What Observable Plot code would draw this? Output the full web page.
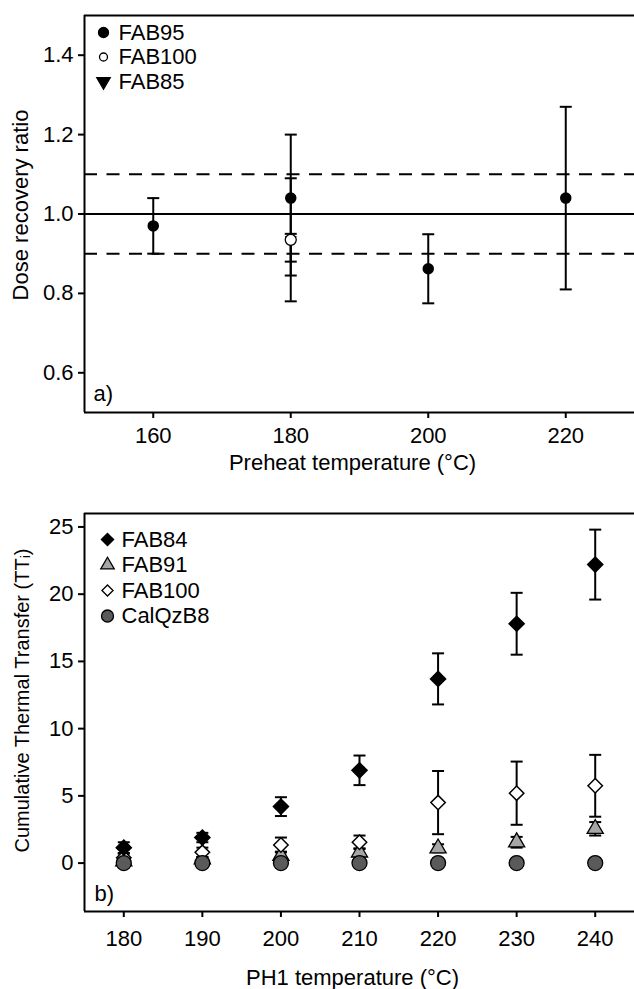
<!DOCTYPE html>
<html><head><meta charset="utf-8">
<script src="https://cdn.jsdelivr.net/npm/d3@7"></script>
<script src="https://cdn.jsdelivr.net/npm/@observablehq/plot@0.6"></script>
<style>
body{margin:0;background:#fff;}
#chart{width:634px;}
#chart svg{display:block;}
</style></head><body><div id="chart"></div>
<script>
// ---------- Panel a) Dose recovery ----------
const preheatTicks = [160, 180, 200, 220];
const ratioTicks = [0.6, 0.8, 1.0, 1.2, 1.4];
const fab95Temp = [160, 180, 200, 220];
const fab95Ratio = [0.97, 1.04, 0.862, 1.04];
const fab95Err = [0.07, 0.16, 0.087, 0.23];
const fab100aTemp = [180];
const fab100aRatio = [0.935];
const fab100aErr = [0.155];
const fab85Temp = [180];
const fab85Ratio = [0.935];
const fab85Low = [0.845];
const fab85High = [0.95];
const refSolid = [1.0];
const refDashed = [0.9, 1.1];
const legendA = ["FAB95", "FAB100", "FAB85"];

// ---------- Panel b) Thermal transfer ----------
const ph1Temps = [180, 190, 200, 210, 220, 230, 240];
const ttTicks = [0, 5, 10, 15, 20, 25];
const fab84TT = [1.15, 1.9, 4.2, 6.9, 13.7, 17.8, 22.2];
const fab84Err = [0.4, 0.35, 0.7, 1.1, 1.9, 2.3, 2.6];
const fab91TT = [0.15, 0.3, 0.55, 0.8, 1.1, 1.55, 2.55];
const fab91Err = [0.1, 0.15, 0.3, 0.3, 0.3, 0.4, 0.5];
const fab100bTT = [0.4, 0.8, 1.35, 1.55, 4.5, 5.2, 5.75];
const fab100bErr = [0.3, 0.35, 0.55, 0.5, 2.35, 2.35, 2.3];
const calQzTT = [0, 0, 0, 0, 0, 0, 0];
const legendB = ["FAB84", "FAB91", "FAB100", "CalQzB8"];

const FONT = "'Liberation Sans', Arial, Helvetica, sans-serif";
const FS = 22;
const cap = {draw(ctx, size) { const r = Math.sqrt(size / Math.PI); ctx.moveTo(-r, 0); ctx.lineTo(r, 0); }};
const rows = (xs, ys, es) => xs.map((x, i) => ({x, y: ys[i], lo: ys[i] - es[i], hi: ys[i] + es[i]}));
const rowsLH = (xs, ys, lo, hi) => xs.map((x, i) => ({x, y: ys[i], lo: lo[i], hi: hi[i]}));

function errMarks(data) {
  return [
    Plot.ruleX(data, {x: "x", y1: "lo", y2: "hi", stroke: "black", strokeWidth: 2}),
    Plot.dot(data, {x: "x", y: "lo", symbol: cap, r: 6, stroke: "black", strokeWidth: 2, fill: "none"}),
    Plot.dot(data, {x: "x", y: "hi", symbol: cap, r: 6, stroke: "black", strokeWidth: 2, fill: "none"})
  ];
}
function legend(items, dx0, dy0, step, tdx) {
  return items.flatMap((it, i) => [
    Plot.dot([it], {frameAnchor: "top-left", dx: dx0, dy: dy0 + i * step, symbol: it.symbol, r: it.r, rotate: it.rotate || 0,
      fill: it.fill, stroke: "black", strokeWidth: 1.3}),
    Plot.text([it], {frameAnchor: "top-left", dx: tdx, dy: dy0 + i * step, text: d => d.label, textAnchor: "start", lineAnchor: "middle", fontSize: FS})
  ]);
}

// Panel a
const a95 = rows(fab95Temp, fab95Ratio, fab95Err);
const a100 = rows(fab100aTemp, fab100aRatio, fab100aErr);
const a85 = rowsLH(fab85Temp, fab85Ratio, fab85Low, fab85High);
const xDomA = [150, 230], yDomA = [0.5, 1.5];
const styleA = [
  {symbol: "circle", r: 5, fill: "black"},
  {symbol: "circle", r: 4, fill: "white"},
  {symbol: "triangle", r: 5, fill: "black", rotate: 180}
];
const plotA = Plot.plot({
  width: 634, height: 490, marginLeft: 84, marginRight: 0, marginTop: 15, marginBottom: 78,
  style: {fontFamily: FONT, fontSize: FS + "px", color: "black", background: "white"},
  x: {domain: xDomA}, y: {domain: yDomA},
  marks: [
    Plot.axisX({ticks: preheatTicks, tickSize: 6, tickPadding: 9, strokeWidth: 2, label: null, fontSize: FS}),
    Plot.axisY({ticks: ratioTicks, tickSize: 6, tickPadding: 5, strokeWidth: 2, label: null, tickFormat: d3.format(".1f"), fontSize: FS}),
    Plot.ruleY(refSolid, {stroke: "black", strokeWidth: 2}),
    Plot.ruleY(refDashed, {stroke: "black", strokeWidth: 2, strokeDasharray: "13,9.5"}),
    Plot.ruleX(xDomA.slice(0, 1), {stroke: "black", strokeWidth: 2}),
    Plot.ruleY(yDomA, {stroke: "black", strokeWidth: 2}),
    ...errMarks(a85), ...errMarks(a100), ...errMarks(a95),
    Plot.dot(a85, {x: "x", y: "y", symbol: "triangle", rotate: 180, r: 3.5, fill: "black", stroke: "black"}),
    Plot.dot(a95, {x: "x", y: "y", symbol: "circle", r: 5, fill: "black", stroke: "black"}),
    Plot.dot(a100, {x: "x", y: "y", symbol: "circle", r: 5.5, fill: "white", stroke: "black", strokeWidth: 1.3}),
    ...legend(legendA.map((label, i) => ({label, ...styleA[i]})), 19, 17, 24.5, 34),
    Plot.text(["a)"], {frameAnchor: "bottom-left", dx: 9, dy: -19, textAnchor: "start", lineAnchor: "middle", fontSize: FS}),
    Plot.text(["Preheat temperature (°C)"], {frameAnchor: "bottom", dy: 50, dx: -7, textAnchor: "middle", lineAnchor: "middle", fontSize: FS}),
    Plot.text(["Dose recovery ratio"], {frameAnchor: "left", rotate: -90, dx: -64, dy: -9, textAnchor: "middle", lineAnchor: "middle", fontSize: FS})
  ]
});

// Panel b
const b84 = rows(ph1Temps, fab84TT, fab84Err);
const b91 = rows(ph1Temps, fab91TT, fab91Err);
const b100 = rows(ph1Temps, fab100bTT, fab100bErr);
const bCal = ph1Temps.map((x, i) => ({x, y: calQzTT[i]}));
const xDomB = [175, 245], yDomB = [-3.6, 26];
const styleB = [
  {symbol: "diamond2", r: 5.5, fill: "black"},
  {symbol: "triangle", r: 5, fill: "#a6a6a6"},
  {symbol: "diamond2", r: 5, fill: "white"},
  {symbol: "circle", r: 6, fill: "#5a5a5a"}
];
const plotB = Plot.plot({
  width: 634, height: 499, marginLeft: 84, marginRight: 0, marginTop: 23, marginBottom: 78,
  style: {fontFamily: FONT, fontSize: FS + "px", color: "black", background: "white"},
  x: {domain: xDomB}, y: {domain: yDomB},
  marks: [
    Plot.axisX({ticks: ph1Temps, tickSize: 6, tickPadding: 13, strokeWidth: 2, label: null, fontSize: FS}),
    Plot.axisY({ticks: ttTicks, tickSize: 6, tickPadding: 5, strokeWidth: 2, label: null, fontSize: FS}),
    Plot.ruleX(xDomB.slice(0, 1), {stroke: "black", strokeWidth: 2}),
    Plot.ruleY(yDomB, {stroke: "black", strokeWidth: 2}),
    ...errMarks(b91), ...errMarks(b100), ...errMarks(b84),
    Plot.dot(b91, {x: "x", y: "y", symbol: "triangle", r: 6, fill: "#a6a6a6", stroke: "black", strokeWidth: 1.3}),
    Plot.dot(b100, {x: "x", y: "y", symbol: "diamond2", r: 6.5, fill: "white", stroke: "black", strokeWidth: 1.5}),
    Plot.dot(b84, {x: "x", y: "y", symbol: "diamond2", r: 6.8, fill: "black", stroke: "black"}),
    Plot.dot(bCal, {x: "x", y: "y", symbol: "circle", r: 7.5, fill: "#5a5a5a", stroke: "black", strokeWidth: 1.3}),
    ...legend(legendB.map((label, i) => ({label, ...styleB[i]})), 23, 26, 25.5, 37),
    Plot.text(["b)"], {frameAnchor: "bottom-left", dx: 10, dy: -18, textAnchor: "start", lineAnchor: "middle", fontSize: FS}),
    Plot.text(["PH1 temperature (°C)"], {frameAnchor: "bottom", dy: 66, dx: -7, textAnchor: "middle", lineAnchor: "middle", fontSize: FS}),
    Plot.text(["Cumulative Thermal Transfer (TTᵢ)"], {frameAnchor: "left", rotate: -90, dx: -62, dy: -12, textAnchor: "middle", lineAnchor: "middle", fontSize: 20})
  ]
});

const host = document.getElementById("chart");
host.appendChild(plotA);
host.appendChild(plotB);
</script>
</body></html>
